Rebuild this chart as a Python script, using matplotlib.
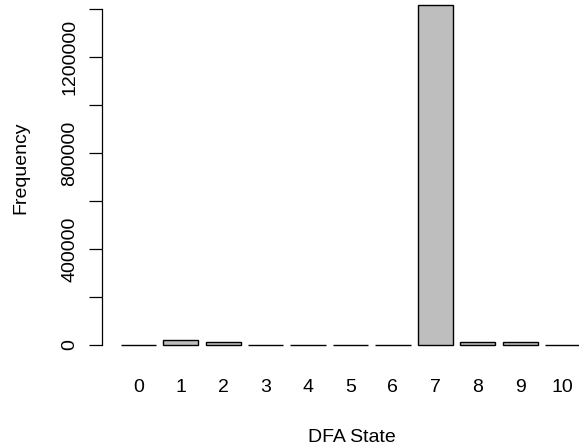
import matplotlib
matplotlib.use("Agg")
import matplotlib.pyplot as plt
import numpy as np

plt.rcParams['font.family'] = ['Liberation Sans', 'DejaVu Sans']

states = ["0", "1", "2", "3", "4", "5", "6", "7", "8", "9", "10"]
freq = [800, 21000, 11000, 800, 800, 800, 800, 1414600, 11000, 11000, 800]
ytick_vals = [0, 200000, 400000, 600000, 800000, 1000000, 1200000, 1400000]
ytick_labels = ["0", "", "400000", "", "800000", "", "1200000", ""]

W, H = 579, 447
fig = plt.figure(figsize=(W / 100, H / 100), dpi=100)

# R-style plot region (in pixels)
left_px, right_px = 102.3, 598.7
bottom_px, top_px = 358.6, -8.1
ax = fig.add_axes([left_px / W, (H - bottom_px) / H,
                   (right_px - left_px) / W, (bottom_px - top_px) / H])

n = len(states)
xpos = 0.7 + 1.2 * np.arange(n)
ax.bar(xpos, freq, width=1.0, color='#BEBEBE', edgecolor='black',
       linewidth=1.0, clip_on=False)

ax.set_xlim(-0.32, 13.72)
ymax = max(freq)
ax.set_ylim(-0.04 * ymax, ymax * 1.04)

for s in ['top', 'right', 'bottom']:
    ax.spines[s].set_visible(False)
ax.spines['left'].set_bounds(0, 1400000)
ax.spines['left'].set_linewidth(0.9)

ax.set_xticks([])
ax.set_yticks(ytick_vals)
ax.set_yticklabels([])
ax.tick_params(axis='y', length=9.1, width=0.9, direction='out')

ax_w_px = right_px - left_px
ax_h_px = bottom_px - top_px
fs = 14
for v, lab in zip(ytick_vals, ytick_labels):
    if lab:
        ax.text(-28 / ax_w_px, v, lab, transform=ax.get_yaxis_transform(),
                rotation=90, rotation_mode='anchor', ha='center',
                va='baseline', fontsize=fs)

for x, lab in zip(xpos, states):
    ax.text(x, -33.4 / ax_h_px, lab, transform=ax.get_xaxis_transform(),
            ha='center', va='baseline', fontsize=fs)

fig.text(351.7 / W, (H - 441.7) / H, "DFA State", ha='center',
         va='baseline', fontsize=fs)
fig.text(25 / W, (H - 168) / H, "Frequency", rotation=90,
         rotation_mode='anchor', ha='center', va='baseline', fontsize=fs)

fig.savefig("out.png", dpi=100)
